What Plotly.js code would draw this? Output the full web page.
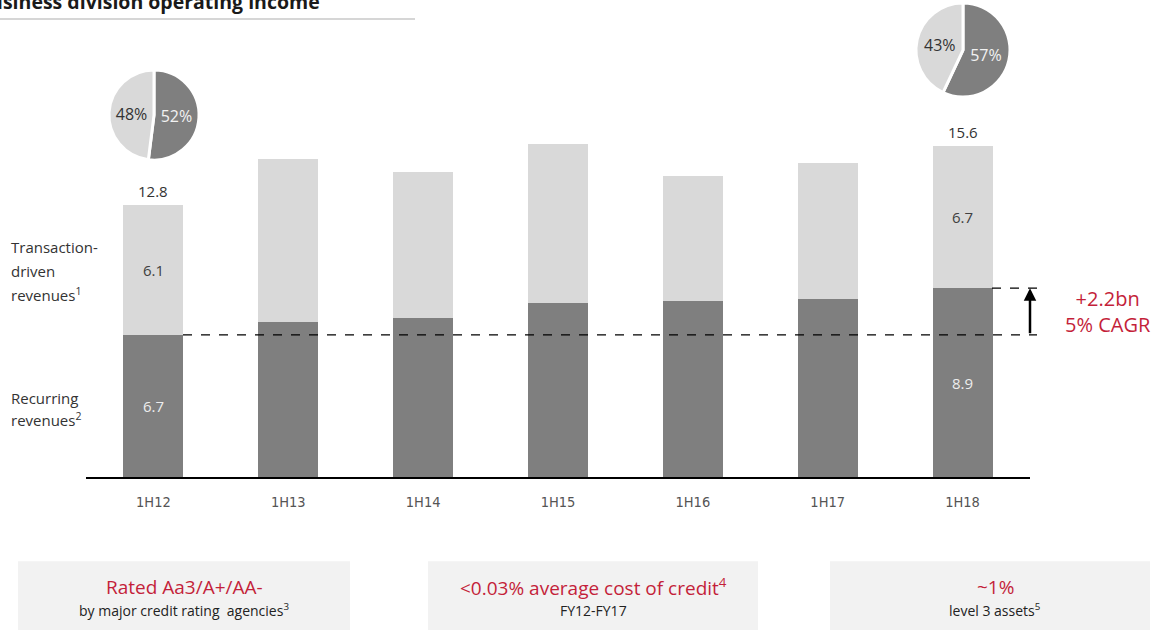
<!DOCTYPE html>
<html>
<head>
<meta charset="utf-8">
<script src="https://cdn.plot.ly/plotly-3.0.1.min.js"></script>
<style>html,body{margin:0;padding:0;background:#fff;}#chart{width:1164px;height:630px;}</style>
</head>
<body>
<div id="chart"></div>
<script>
// ---- data ----
const categories = ['1H12', '1H13', '1H14', '1H15', '1H16', '1H17', '1H18'];
const recurring = [6.7, 7.3, 7.5, 8.2, 8.3, 8.4, 8.9];
const transaction = [6.1, 7.7, 6.9, 7.5, 5.9, 6.4, 6.7];
const labelledIdx = [0, 6];
const pie1H12 = [52, 48];
const pie1H18 = [57, 43];
const pieLabels = ['Recurring', 'Transaction-driven'];
const growthText = ['+2.2bn', '5% CAGR'];
const titleText = 'Business division operating income';
const boxes = [
  {head: 'Rated Aa3/A+/AA-', sub: 'by major credit rating  agencies<sup>3</sup>'},
  {head: '<0.03% average cost of credit<sup>4</sup>', sub: 'FY12-FY17'},
  {head: '~1%', sub: 'level 3 assets<sup>5</sup>'}
];

// ---- layout helpers (pixel -> paper) ----
const W = 1164, H = 630, L = 86, R = 1030, B = 476.7, T = 0;
const pw = R - L, ph = B - T;
const px = x => (x - L) / pw;
const py = y => (B - y) / ph;
const pxPerUnit = 21.2;
const yMax = ph / pxPerUnit;

const RED = '#c41f3a';
const DARK = '#7f7f7f';
const LIGHT = '#d9d9d9';
const FONT = 'Open Sans, Noto Sans, sans-serif';

const totals = categories.map((c, i) => Math.round((recurring[i] + transaction[i]) * 10) / 10);
const recText = recurring.map((v, i) => labelledIdx.includes(i) ? v.toFixed(1) : '');
const trText = transaction.map((v, i) => labelledIdx.includes(i) ? v.toFixed(1) : '');

const traces = [
  {
    type: 'bar', x: categories, y: recurring, name: 'Recurring revenues',
    marker: {color: DARK}, text: recText, textposition: 'inside', insidetextanchor: 'middle',
    textfont: {color: '#ededed', size: 15, family: FONT}, hoverinfo: 'skip'
  },
  {
    type: 'bar', x: categories, y: transaction, name: 'Transaction-driven revenues',
    marker: {color: LIGHT}, text: trText, textposition: 'inside', insidetextanchor: 'middle',
    textfont: {color: '#404040', size: 15, family: FONT}, hoverinfo: 'skip'
  },
  {
    type: 'pie', values: pie1H12, labels: pieLabels, sort: false, direction: 'clockwise', rotation: 0,
    domain: {x: [px(107), px(201)], y: [py(160), py(70)]},
    marker: {colors: [DARK, LIGHT], line: {color: '#ffffff', width: 3}},
    textinfo: 'percent', textposition: 'inside', insidetextorientation: 'horizontal',
    textfont: {color: ['#f2f2f2', '#333333'], size: 16, family: FONT}, showlegend: false, hoverinfo: 'skip'
  },
  {
    type: 'pie', values: pie1H18, labels: pieLabels, sort: false, direction: 'clockwise', rotation: 0,
    domain: {x: [px(916), px(1010)], y: [py(97), py(3)]},
    marker: {colors: [DARK, LIGHT], line: {color: '#ffffff', width: 3}},
    textinfo: 'percent', textposition: 'inside', insidetextorientation: 'horizontal',
    textfont: {color: ['#f2f2f2', '#333333'], size: 16, family: FONT}, showlegend: false, hoverinfo: 'skip'
  }
];

const annotations = [];
// totals above labelled bars
labelledIdx.forEach(i => {
  annotations.push({x: categories[i], y: totals[i], xref: 'x', yref: 'y', text: totals[i].toFixed(1),
    showarrow: false, yanchor: 'bottom', yshift: 2, font: {size: 15, color: '#333333', family: FONT}});
});
// title (partially cropped at the top-left edge, as in the reference)
annotations.push({x: px(-25), y: py(1), xref: 'paper', yref: 'paper', xanchor: 'left', yanchor: 'middle',
  text: '<b>' + titleText + '</b>', showarrow: false, font: {size: 19.5, color: '#1a1a1a', family: FONT}});
// left side labels
const leftLines = [
  ['Transaction-', 247], ['driven', 271], ['revenues<sup>1</sup>', 294],
  ['Recurring', 398], ['revenues<sup>2</sup>', 419]
];
leftLines.forEach(([t, y]) => annotations.push({x: px(9), y: py(y), xref: 'paper', yref: 'paper',
  xanchor: 'left', yanchor: 'middle', text: t, showarrow: false, font: {size: 15, color: '#333333', family: FONT}}));
// growth arrow
annotations.push({x: px(1030), y: recurring[6], xref: 'paper', yref: 'y', ax: px(1030), ay: recurring[0],
  axref: 'paper', ayref: 'y', text: '', showarrow: true, arrowhead: 2, arrowsize: 1, arrowwidth: 2.5,
  arrowcolor: '#000000', standoff: 0, startstandoff: 0});
annotations.push({x: px(1108), y: py(311), xref: 'paper', yref: 'paper', xanchor: 'center', yanchor: 'middle',
  text: growthText.join('<br>'), showarrow: false, font: {size: 20, color: RED, family: FONT}});
// bottom boxes
const boxGeom = [[18, 350], [428, 758], [830, 1150]];
const shapes = [];
boxes.forEach((b, k) => {
  const [x0, x1] = boxGeom[k];
  shapes.push({type: 'rect', xref: 'paper', yref: 'paper', x0: px(x0), x1: px(x1), y0: py(561), y1: py(632),
    fillcolor: '#f2f2f2', line: {width: 0}, layer: 'below'});
  const cx = px((x0 + x1) / 2 + (k === 2 ? 5 : 0));
  annotations.push({x: cx, y: py(587), xref: 'paper', yref: 'paper', xanchor: 'center', yanchor: 'middle',
    text: b.head, showarrow: false, font: {size: 19, color: RED, family: FONT}});
  annotations.push({x: cx, y: py(610), xref: 'paper', yref: 'paper', xanchor: 'center', yanchor: 'middle',
    text: b.sub, showarrow: false, font: {size: 14, color: '#222222', family: FONT}});
});
// title underline
shapes.push({type: 'line', xref: 'paper', yref: 'paper', x0: px(0), x1: px(415), y0: py(19), y1: py(19),
  line: {color: '#c8c8c8', width: 1.5}});
// dashed reference lines
shapes.push({type: 'line', xref: 'paper', yref: 'y', x0: px(183), x1: px(1037), y0: recurring[0], y1: recurring[0],
  line: {color: '#000000', width: 1.3, dash: 'dash'}, layer: 'above'});
shapes.push({type: 'line', xref: 'paper', yref: 'y', x0: px(992), x1: px(1037), y0: recurring[6], y1: recurring[6],
  line: {color: '#000000', width: 1.3, dash: 'dash'}, layer: 'above'});

const layout = {
  width: W, height: H,
  margin: {l: L, r: W - R, t: T, b: H - B},
  paper_bgcolor: '#ffffff', plot_bgcolor: '#ffffff',
  barmode: 'stack', bargap: 0.555, showlegend: false,
  xaxis: {type: 'category', range: [-0.5, 6.5], showline: true, linecolor: '#000000', linewidth: 1.5,
    showgrid: false, zeroline: false, ticks: 'outside', ticklen: 11, tickcolor: 'rgba(0,0,0,0)',
    tickfont: {size: 14.5, color: '#555555', family: 'DejaVu Sans Condensed, Roboto, sans-serif'}, fixedrange: true},
  yaxis: {range: [0, yMax], visible: false, showgrid: false, zeroline: false, fixedrange: true},
  annotations: annotations, shapes: shapes,
  font: {family: FONT}
};

Plotly.newPlot('chart', traces, layout, {displayModeBar: false, staticPlot: true});
</script>
</body>
</html>
